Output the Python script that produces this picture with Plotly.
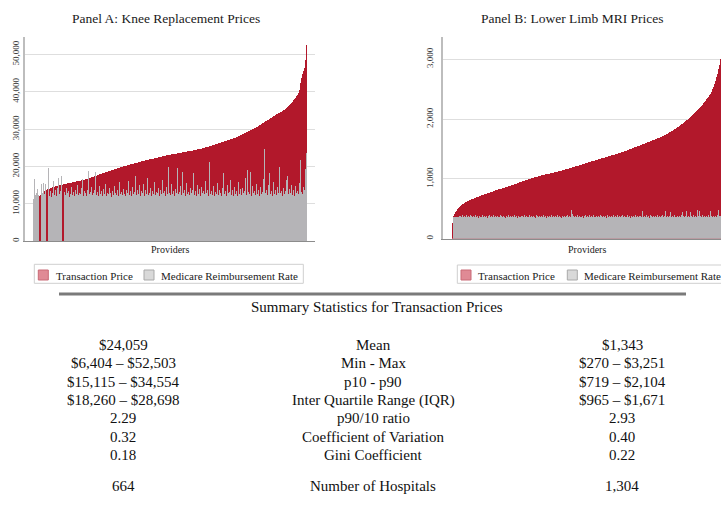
import plotly.graph_objects as go

# ---------------- data (one value per provider column) ----------------
knee_price = [
    6404, 8200, 9600, 10500, 11200, 11700, 12100, 12400, 12700, 12950,
    13150, 13350, 13520, 13680, 13820, 13950, 14070, 14180, 14290, 14390,
    14480, 14560, 14640, 14720, 14800, 14870, 14940, 15010, 15080, 15140,
    15200, 15260, 15320, 15380, 15440, 15500, 15560, 15610, 15670, 15730,
    15790, 15850, 15910, 15970, 16030, 16090, 16150, 16210, 16280, 16350,
    16420, 16490, 16560, 16640, 16720, 16800, 16880, 16960, 17050, 17140,
    17240, 17340, 17440, 17540, 17640, 17740, 17840, 17940, 18040, 18140,
    18240, 18330, 18420, 18510, 18600, 18690, 18780, 18870, 18960, 19050,
    19140, 19230, 19320, 19410, 19500, 19590, 19680, 19760, 19840, 19920,
    20000, 20080, 20160, 20230, 20300, 20380, 20450, 20530, 20600, 20680,
    20750, 20830, 20900, 20980, 21050, 21130, 21200, 21280, 21350, 21430,
    21500, 21580, 21650, 21720, 21800, 21850, 21900, 21950, 22000, 22050,
    22100, 22170, 22250, 22310, 22380, 22440, 22500, 22560, 22620, 22690,
    22750, 22810, 22870, 22940, 23000, 23050, 23100, 23150, 23200, 23250,
    23300, 23350, 23400, 23450, 23500, 23550, 23600, 23650, 23700, 23750,
    23800, 23850, 23900, 23950, 24000, 24050, 24100, 24150, 24200, 24250,
    24300, 24360, 24420, 24490, 24550, 24610, 24680, 24740, 24800, 24870,
    24950, 25020, 25100, 25170, 25250, 25320, 25400, 25470, 25550, 25630,
    25720, 25810, 25900, 25990, 26080, 26160, 26250, 26330, 26420, 26510,
    26600, 26690, 26780, 26860, 26950, 27040, 27130, 27220, 27320, 27420,
    27520, 27630, 27750, 27870, 28000, 28120, 28250, 28370, 28500, 28620,
    28750, 28870, 29000, 29120, 29250, 29380, 29520, 29660, 29800, 29950,
    30100, 30250, 30400, 30550, 30700, 30850, 31000, 31170, 31350, 31520,
    31700, 31870, 32050, 32220, 32400, 32570, 32750, 32920, 33100, 33270,
    33450, 33620, 33800, 33950, 34100, 34250, 34400, 34550, 34700, 34870,
    35050, 35250, 35450, 35670, 35900, 36150, 36400, 36700, 37000, 37350,
    37700, 38050, 38400, 38800, 39200, 39700, 40500, 42500, 43800, 44800,
    45500, 46500, 48500, 52503]

knee_medicare = [
    11200, 16500, 12300, 12800, 14000, 12400, 0, 0, 15200, 13000,
    15500, 12600, 15300, 0, 0, 19500, 12000, 13400, 11800, 12900,
    16200, 12400, 13700, 12100, 14300, 16800, 12700, 13300, 17300, 0,
    0, 13100, 12300, 14200, 12800, 13500, 11900, 12700, 14600, 12400,
    13200, 12000, 13800, 12500, 15100, 12300, 13000, 12600, 14100, 16700,
    12200, 13400, 12800, 12100, 13600, 18700, 12500, 13100, 14400, 12300,
    12900, 13700, 18600, 12400, 13200, 12000, 14800, 12700, 13300, 12200,
    13900, 12600, 15400, 12100, 13000, 12500, 14200, 12800, 11900, 13500,
    12300, 14700, 12900, 12400, 13600, 12000, 15700, 12700, 13200, 12300,
    14000, 12600, 12100, 13800, 12900, 16200, 12400, 13300, 12000, 14500,
    12700, 13100, 17500, 12300, 13700, 12500, 14900, 12200, 13400, 12800,
    15300, 12100, 13600, 12600, 17000, 12400, 13000, 14300, 12000, 13500,
    12700, 15800, 12300, 13200, 12900, 14100, 12200, 13800, 12500, 16400,
    12800, 13300, 12100, 14600, 12600, 19900, 13000, 12400, 15200, 12700,
    13500, 12200, 14000, 12800, 19500, 12500, 13200, 14700, 12300, 18500,
    12900, 13600, 12100, 15500, 12700, 13100, 12400, 14300, 12800, 13700,
    18300, 12300, 13400, 12000, 15000, 12600, 13900, 12200, 14400, 12900,
    13300, 12500, 16100, 12800, 13700, 12100, 21100, 12700, 13500, 12400,
    14800, 12000, 13200, 12600, 15600, 12300, 13800, 12900, 12200, 14200,
    18300, 12500, 13400, 12000, 14900, 12800, 13100, 16300, 12400, 13600,
    12200, 14500, 12700, 13300, 12100, 15700, 12600, 13900, 12300, 14100,
    12900, 13500, 16800, 12400, 19000, 13200, 12600, 18500, 12100, 14700,
    12800, 13400, 12300, 15300, 12700, 13800, 12000, 14400, 12500, 13100,
    16600, 24600, 12900, 13600, 12400, 14900, 18200, 12700, 13300, 12200,
    15800, 12600, 13700, 12300, 14500, 13000, 19900, 12800, 13500, 12100,
    14200, 12700, 13300, 16400, 17500, 12500, 13900, 12900, 15100, 12400,
    13600, 12200, 14800, 12800, 13400, 12600, 15500, 21800, 13100, 12700,
    14600, 13800, 19200, 23500]

mri_price = [
    270, 380, 415, 440, 465, 490, 510, 528, 545, 560,
    573, 585, 596, 606, 615, 624, 633, 641, 649, 656,
    663, 670, 677, 684, 691, 698, 705, 711, 717, 723,
    729, 735, 741, 747, 753, 759, 765, 771, 777, 783,
    789, 796, 802, 808, 813, 818, 823, 828, 833, 838,
    843, 848, 853, 858, 863, 868, 874, 880, 886, 892,
    898, 904, 910, 916, 922, 928, 934, 940, 946, 952,
    958, 964, 970, 976, 982, 988, 994, 1000, 1005, 1010,
    1015, 1020, 1025, 1030, 1035, 1040, 1045, 1050, 1054, 1058,
    1062, 1066, 1070, 1074, 1078, 1082, 1086, 1090, 1094, 1098,
    1102, 1106, 1110, 1113, 1117, 1121, 1125, 1129, 1133, 1138,
    1143, 1148, 1153, 1158, 1163, 1168, 1173, 1178, 1183, 1188,
    1193, 1198, 1203, 1208, 1213, 1218, 1223, 1228, 1234, 1240,
    1246, 1252, 1257, 1262, 1267, 1272, 1277, 1282, 1287, 1292,
    1297, 1302, 1307, 1312, 1317, 1322, 1327, 1332, 1337, 1342,
    1347, 1352, 1357, 1362, 1367, 1372, 1377, 1382, 1387, 1392,
    1397, 1402, 1407, 1412, 1417, 1422, 1427, 1432, 1438, 1444,
    1450, 1456, 1462, 1468, 1474, 1480, 1487, 1493, 1500, 1506,
    1513, 1519, 1526, 1532, 1539, 1545, 1552, 1558, 1565, 1571,
    1578, 1584, 1591, 1597, 1604, 1610, 1617, 1623, 1630, 1636,
    1643, 1649, 1656, 1662, 1669, 1676, 1684, 1692, 1700, 1708,
    1716, 1724, 1733, 1742, 1750, 1759, 1768, 1777, 1786, 1796,
    1806, 1816, 1827, 1838, 1849, 1861, 1873, 1885, 1897, 1910,
    1923, 1936, 1950, 1964, 1978, 1993, 2008, 2023, 2038, 2054,
    2070, 2086, 2102, 2119, 2136, 2153, 2170, 2188, 2205, 2224,
    2242, 2262, 2283, 2305, 2328, 2352, 2376, 2402, 2428, 2458,
    2500, 2545, 2590, 2640, 2700, 2760, 2830, 2900, 3000, 3060,
    3120, 3170, 3210, 3251]

mri_medicare = [
    0, 365, 365, 365, 365, 365, 365, 372, 388, 360,
    395, 371, 380, 356, 402, 368, 377, 362, 391, 374,
    358, 385, 367, 399, 361, 379, 352, 388, 370, 364,
    393, 357, 376, 368, 384, 350, 372, 396, 361, 378,
    366, 389, 355, 374, 362, 381, 369, 357, 392, 373,
    360, 386, 371, 354, 379, 365, 397, 359, 382, 368,
    375, 356, 390, 363, 378, 352, 386, 369, 361, 384,
    372, 358, 394, 366, 380, 355, 371, 389, 362, 376,
    359, 383, 368, 351, 392, 374, 363, 387, 357, 379,
    370, 395, 361, 378, 354, 385, 367, 373, 358, 390,
    364, 381, 356, 376, 369, 397, 360, 384, 371, 353,
    388, 366, 379, 359, 372, 391, 362, 383, 368, 474,
    412, 377, 355, 386, 365, 394, 358, 380, 370, 362,
    385, 352, 374, 396, 363, 381, 357, 389, 368, 376,
    360, 393, 371, 355, 384, 366, 378, 361, 399, 372,
    358, 387, 369, 380, 352, 391, 364, 375, 359, 383,
    370, 396, 362, 378, 355, 389, 367, 381, 360, 374,
    392, 357, 384, 366, 371, 398, 361, 379, 353, 386,
    368, 377, 359, 393, 365, 382, 356, 375, 388, 362,
    470, 371, 383, 358, 396, 367, 380, 354, 389, 373,
    361, 385, 369, 377, 356, 394, 364, 381, 359, 372,
    390, 362, 378, 455, 366, 384, 357, 373, 448, 369,
    380, 358, 392, 371, 363, 386, 360, 377, 368, 395,
    452, 374, 361, 388, 458, 366, 379, 355, 446, 383,
    370, 393, 362, 378, 357, 480, 372, 465, 385, 368,
    391, 359, 376, 367, 384, 360, 396, 371, 470, 378,
    363, 387, 369, 381, 357, 392, 472, 375, 386, 364,
    380, 370, 458, 390]

knee_ticks = [0, 10000, 20000, 30000, 40000, 50000]
mri_ticks = [0, 1000, 2000, 3000]

stat_labels = ["Mean", "Min - Max", "p10 - p90", "Inter Quartile Range (IQR)",
               "p90/10 ratio", "Coefficient of Variation", "Gini Coefficient",
               "Number of Hospitals"]
knee_stats = ["$24,059", "$6,404 \u2013 $52,503", "$15,115 \u2013 $34,554",
              "$18,260 \u2013 $28,698", "2.29", "0.32", "0.18", "664"]
mri_stats = ["$1,343", "$270 \u2013 $3,251", "$719 \u2013 $2,104",
             "$965 \u2013 $1,671", "2.93", "0.40", "0.22", "1,304"]

# ---------------- styling ----------------
W, H = 721, 509
SERIF = "Liberation Serif, Times New Roman, serif"
RED = "#B2182B"
GRAY = "#B5B4B7"


def px(x):
    return x / W


def py(y):
    return 1 - y / H


fig = go.Figure()

idxA = list(range(len(knee_price)))
idxB = list(range(len(mri_price)))

fig.add_trace(go.Bar(x=idxA, y=knee_price, marker=dict(color=RED, line=dict(width=0)),
                     width=1, xaxis="x", yaxis="y", showlegend=False, name="Transaction Price"))
fig.add_trace(go.Bar(x=idxA, y=knee_medicare, marker=dict(color=GRAY, line=dict(width=0)),
                     width=1, xaxis="x", yaxis="y", showlegend=False, name="Medicare Reimbursement Rate"))
fig.add_trace(go.Bar(x=idxB, y=mri_price, marker=dict(color=RED, line=dict(width=0)),
                     width=1, xaxis="x2", yaxis="y2", showlegend=False, name="Transaction Price"))
fig.add_trace(go.Bar(x=idxB, y=mri_medicare, marker=dict(color=GRAY, line=dict(width=0)),
                     width=1, xaxis="x2", yaxis="y2", showlegend=False, name="Medicare Reimbursement Rate"))

common_x = dict(showticklabels=False, showgrid=False, zeroline=False, showline=True,
                linecolor="#8c8c8c", linewidth=1, ticks="", fixedrange=True)
common_y = dict(showgrid=True, gridcolor="#dedede", gridwidth=1, zeroline=False,
                showline=True, linecolor="#bdbdbd", linewidth=1.5, ticks="",
                tickangle=-90, tickformat=",d",
                tickfont=dict(family=SERIF, size=9, color="#3a3a3a"), fixedrange=True)

nA = len(knee_price)
# panel A: axis 25..315 px, bars 33..307 px (1 px per provider column)
# panel B: axis starts at 443 px, bars start at 452 px, clipped at the right edge
fig.update_layout(
    xaxis=dict(domain=[px(25), px(315)], range=[-8.5, nA - 0.5 + 8], anchor="y", **common_x),
    yaxis=dict(domain=[py(241), py(37)], range=[0, 54700], tickvals=knee_ticks,
               anchor="x", ticklabelstandoff=1, **common_y),
    xaxis2=dict(domain=[px(443), 1.0], range=[-9.5, -9.5 + (W - 443)], anchor="y2", **common_x),
    yaxis2=dict(domain=[py(238.7), py(37)], range=[0, 3373], tickvals=mri_ticks,
                anchor="x2", ticklabelstandoff=5, **common_y),
    barmode="overlay",
    bargap=0,
    width=W, height=H,
    margin=dict(l=0, r=0, t=0, b=0),
    paper_bgcolor="white", plot_bgcolor="white",
    template="none",
    font=dict(family=SERIF, color="#111"),
)

ann = []
shapes = []

# panel titles and axis labels
ann.append(dict(x=px(166), y=py(19), text="Panel A: Knee Replacement Prices"))
ann.append(dict(x=px(572), y=py(19), text="Panel B: Lower Limb MRI Prices"))
for a in ann:
    a.update(xref="paper", yref="paper", showarrow=False, xanchor="center", yanchor="middle",
             font=dict(family=SERIF, size=13.5, color="#1a1a1a"))
for xc in (170, 587):
    ann.append(dict(x=px(xc), y=py(249), xref="paper", yref="paper", text="Providers",
                    showarrow=False, xanchor="center", yanchor="middle",
                    font=dict(family=SERIF, size=10, color="#222")))

# legends (drawn as boxes + swatches + text)
legends = [
    dict(box=(34.3, 264.3, 303.3, 283.3), r=(38.3, 48.3), t1=54, g=(144, 154), t2=159.3),
    dict(box=(457.3, 265, 745, 283.3), r=(461, 471), t1=476, g=(567.3, 577.3), t2=582.3),
]
for lg in legends:
    x0, y0, x1, y1 = lg["box"]
    shapes.append(dict(type="rect", xref="paper", yref="paper", x0=px(x0), x1=px(x1),
                       y0=py(y1), y1=py(y0), line=dict(color="#cfcfcf", width=1),
                       fillcolor="rgba(0,0,0,0)"))
    shapes.append(dict(type="rect", xref="paper", yref="paper", x0=px(lg["r"][0]), x1=px(lg["r"][1]),
                       y0=py(280), y1=py(270), line=dict(color="#c96a76", width=1),
                       fillcolor="#E08A95"))
    shapes.append(dict(type="rect", xref="paper", yref="paper", x0=px(lg["g"][0]), x1=px(lg["g"][1]),
                       y0=py(280), y1=py(270), line=dict(color="#a9a9a9", width=1),
                       fillcolor="#D9D9D9"))
    for tx, label in ((lg["t1"], "Transaction Price"), (lg["t2"], "Medicare Reimbursement Rate")):
        ann.append(dict(x=px(tx), y=py(275.5), xref="paper", yref="paper", text=label,
                        showarrow=False, xanchor="left", yanchor="middle",
                        font=dict(family=SERIF, size=11, color="#222")))

# separator line and summary table
shapes.append(dict(type="line", xref="paper", yref="paper", x0=px(59), x1=px(686),
                   y0=py(294), y1=py(294), line=dict(color="#7a7a7a", width=3)))
ann.append(dict(x=px(377), y=py(307), xref="paper", yref="paper",
                text="Summary Statistics for Transaction Prices", showarrow=False,
                xanchor="center", yanchor="middle", font=dict(family=SERIF, size=15, color="#111")))

row_y = [345, 363, 382, 400, 418, 437, 455, 486]
for yy, lab, ks, ms in zip(row_y, stat_labels, knee_stats, mri_stats):
    for xc, txt in ((123, ks), (373, lab), (622, ms)):
        ann.append(dict(x=px(xc), y=py(yy), xref="paper", yref="paper", text=txt,
                        showarrow=False, xanchor="center", yanchor="middle",
                        font=dict(family=SERIF, size=15, color="#111")))

fig.update_layout(annotations=ann, shapes=shapes)

fig.write_html("out.html", config={"displayModeBar": False},
               post_script="document.body.style.margin='0';document.body.style.overflow='hidden';")
